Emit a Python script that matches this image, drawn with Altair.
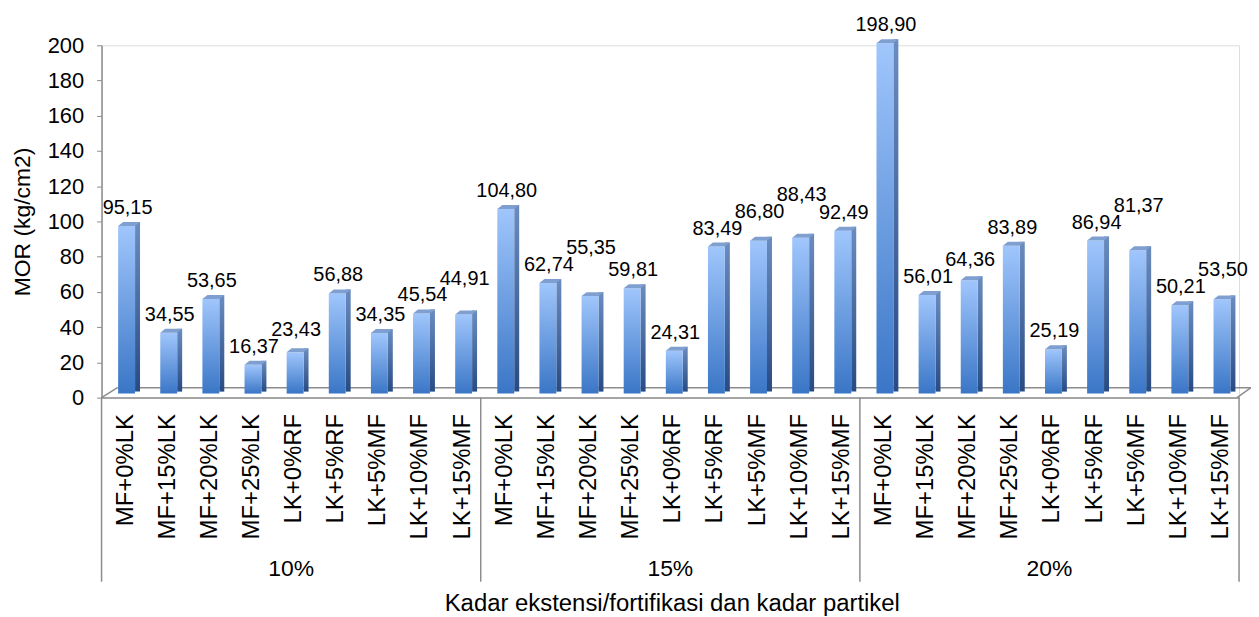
import altair as alt
import pandas as pd

# ---- data ----
treatments = ["MF+0%LK", "MF+15%LK", "MF+20%LK", "MF+25%LK", "LK+0%RF",
              "LK+5%RF", "LK+5%MF", "LK+10%MF", "LK+15%MF"]
groups = ["10%", "15%", "20%"]
mor_10 = [95.15, 34.55, 53.65, 16.37, 23.43, 56.88, 34.35, 45.54, 44.91]
mor_15 = [104.80, 62.74, 55.35, 59.81, 24.31, 83.49, 86.80, 88.43, 92.49]
mor_20 = [198.90, 56.01, 64.36, 83.89, 25.19, 86.94, 81.37, 50.21, 53.50]
y_ticks = list(range(0, 201, 20))
y_title = "MOR (kg/cm2)"
x_title = "Kadar ekstensi/fortifikasi dan kadar partikel"

rows = []
for gi, (g, vals) in enumerate(zip(groups, [mor_10, mor_15, mor_20])):
    for ti, (t, v) in enumerate(zip(treatments, vals)):
        rows.append({"id": gi * 9 + ti, "group": g, "treat": t, "value": v})

# stagger value labels of neighbouring bars so that they do not collide
GAP = 9.5  # in data units (about one label height)
prev = None
for r in rows:
    lv = r["value"]
    if prev is not None and abs(lv - prev) < GAP:
        lv = max(lv, prev + GAP)
    r["label_y"] = lv
    prev = lv
df = pd.DataFrame(rows)

W, H = 1143, 354
FONT = "Liberation Sans"
AX = "#8c8c8c"

label_js = "[" + ",".join("'%s'" % t for t in treatments) + "][datum.value % 9]"

x_enc = alt.X("id:O", sort=None, title=None,
              scale=alt.Scale(paddingInner=0, paddingOuter=0),
              axis=alt.Axis(labelExpr=label_js, labelAngle=-90, labelFontSize=24,
                            labelPadding=16, labelOffset=3, ticks=False, tickSize=0,
                            domainColor=AX, domainWidth=1.5, labelColor="black",
                            labelFont=FONT))
y_scale = alt.Scale(domain=[0, 200], nice=False)
y_axis = alt.Axis(values=y_ticks, labelFontSize=22, labelPadding=13, labelOverlap=False,
                  tickSize=5, tickColor=AX, domainColor=AX, domainWidth=1.5,
                  grid=False, labelColor="black", labelFont=FONT,
                  titleFontSize=23, titleFontWeight="normal", titleFont=FONT,
                  titleColor="black", titleX=-67, titleY=H / 2,
                  titleAngle=-90, titleBaseline="bottom")
y_enc = alt.Y("value:Q", title=y_title, scale=y_scale, axis=y_axis)

front_grad = alt.Gradient(gradient="linear", x1=0, x2=0, y1=0, y2=1,
                          stops=[alt.GradientStop(color="#a0c6fc", offset=0),
                                 alt.GradientStop(color="#3a76c6", offset=1)])
side_grad = alt.Gradient(gradient="linear", x1=0, x2=0, y1=0, y2=1,
                         stops=[alt.GradientStop(color="#6a8cbf", offset=0),
                                alt.GradientStop(color="#284b84", offset=1)])

base = alt.Chart(df)
one = pd.DataFrame({"k": [0]})

# floor (3D base) decoration
floor_back = alt.Chart(one).mark_rule(color=AX, strokeWidth=1.5).encode(
    x=alt.value(16), x2=alt.value(W + 12), y=alt.value(H - 10), y2=alt.value(H - 10))
floor_left = alt.Chart(one).mark_rule(color=AX, strokeWidth=1.5).encode(
    x=alt.value(0), x2=alt.value(16), y=alt.value(H), y2=alt.value(H - 10))
floor_right = alt.Chart(one).mark_rule(color=AX, strokeWidth=1.5).encode(
    x=alt.value(W - 2), x2=alt.value(W + 12), y=alt.value(H), y2=alt.value(H - 10))

side = base.mark_bar(size=5, xOffset=15, yOffset=-8, y2Offset=-6, color=side_grad).encode(
    x=x_enc, y=y_enc, y2=alt.datum(0))
front = base.mark_bar(size=17, xOffset=4, yOffset=-4, y2Offset=-4, color=front_grad).encode(
    x=x_enc, y=y_enc, y2=alt.datum(0))
top = base.mark_point(shape="M -8.5 0 L 8.5 0 L 13.5 -4 L -3.5 -4 Z", size=4, filled=True,
                      opacity=1, color="#7f9fd0", strokeWidth=0, xOffset=4, yOffset=-4).encode(
    x=x_enc, y=y_enc)

labels = base.transform_calculate(
    lbl="replace(format(datum.value, '.2f'), '.', ',')"
).mark_text(fontSize=20, font=FONT, color="black", baseline="bottom",
            xOffset=5, yOffset=-12).encode(
    x=x_enc, y=alt.Y("label_y:Q", title=y_title, scale=y_scale, axis=y_axis),
    text="lbl:N")

# group separators and group labels
sep_layers = [
    alt.Chart(one).mark_rule(color=AX, strokeWidth=1.5).encode(
        x=alt.value(W * k / 3), y=alt.value(H), y2=alt.value(H + 185))
    for k in range(4)
]

glabels = base.transform_filter("datum.id % 9 == 4").mark_text(
    fontSize=23, font=FONT, color="black", baseline="middle").encode(
    x=x_enc, text="group:N", y=alt.value(H + 172))

xtitle = alt.Chart(pd.DataFrame({"t": [x_title]})).mark_text(
    fontSize=24, font=FONT, color="black", baseline="alphabetic").encode(
    x=alt.value(W / 2 + 2), y=alt.value(H + 214), text="t:N")

chart = alt.layer(floor_back, floor_left, floor_right, side, front, top, labels,
                  glabels, xtitle, *sep_layers).properties(
    width=W, height=H,
    autosize=alt.AutoSizeParams(type="none"),
    padding={"left": 94, "top": 36, "right": 12, "bottom": 219},
).configure_view(stroke=None).configure(font=FONT)

chart.save("out.html", embed_options={"renderer": "svg", "actions": False})
